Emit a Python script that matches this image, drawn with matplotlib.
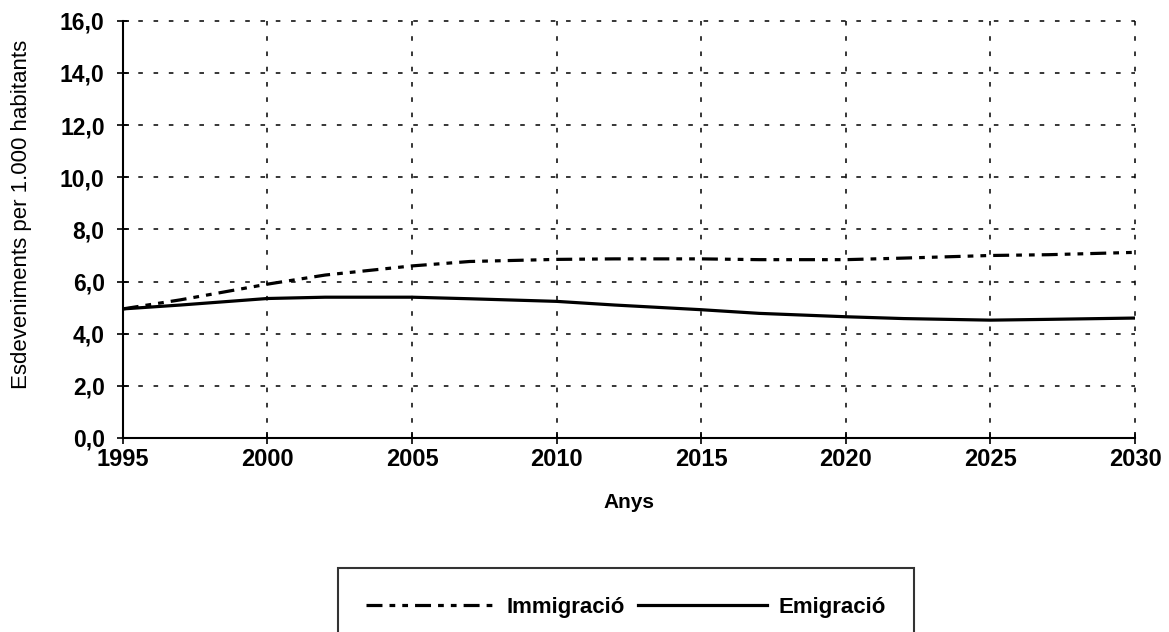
import matplotlib
matplotlib.use('agg')
import matplotlib.pyplot as plt
from matplotlib.ticker import FuncFormatter

years = [1995, 1997, 2000, 2002, 2005, 2007, 2010, 2012, 2015, 2017, 2020, 2022, 2025, 2027, 2030]
immigracio = [4.95, 5.3, 5.9, 6.25, 6.6, 6.77, 6.85, 6.87, 6.87, 6.84, 6.84, 6.9, 7.0, 7.03, 7.12]
emigracio = [4.95, 5.1, 5.35, 5.4, 5.4, 5.34, 5.24, 5.1, 4.92, 4.78, 4.65, 4.58, 4.52, 4.55, 4.6]

xticks = [1995, 2000, 2005, 2010, 2015, 2020, 2025, 2030]
yticks = [0, 2, 4, 6, 8, 10, 12, 14, 16]

plt.rcParams['font.family'] = ['Liberation Sans', 'DejaVu Sans']

fig = plt.figure(figsize=(11.69, 6.32), dpi=100)
ax = fig.add_axes([0.105, 0.307, 0.866, 0.66])

ax.plot(years, immigracio, color='black', lw=2.3, dashes=(5, 2.2, 1.8, 2.2, 1.8, 2.2), label='Immigració')
ax.plot(years, emigracio, color='black', lw=2.3, label='Emigració')

ax.set_xlim(1995, 2030)
ax.set_ylim(0, 16)
ax.set_xticks(xticks)
ax.set_yticks(yticks)
ax.yaxis.set_major_formatter(FuncFormatter(lambda v, p: f"{v:.1f}".replace('.', ',')))

ax.grid(True, color='black', lw=1.1, dashes=(3, 7))
for gl in ax.get_xgridlines() + ax.get_ygridlines():
    gl.set_clip_on(False)
ax.set_axisbelow(True)
for s in ['top', 'right']:
    ax.spines[s].set_visible(False)
for s in ['left', 'bottom']:
    ax.spines[s].set_linewidth(1.5)

ax.tick_params(direction='inout', length=8, width=1.2)
ax.tick_params(axis='x', labelsize=17, pad=3)
ax.tick_params(axis='y', labelsize=16.5, pad=9)
for lbl in ax.get_xticklabels() + ax.get_yticklabels():
    lbl.set_fontweight('bold')

ax.set_xlabel('Anys', fontsize=15, fontweight='bold', labelpad=16)
ax.set_ylabel('Esdeveniments per 1.000 habitants', fontsize=16)
ax.yaxis.set_label_coords(-0.09, 0.535)

leg = fig.legend(loc='upper center', bbox_to_anchor=(626 / 1169, 1 - 557 / 632), ncol=2,
                 frameon=True, fancybox=False, edgecolor='black', fontsize=16,
                 handlelength=5.8, columnspacing=0.6, borderpad=1.3, handletextpad=0.5)
leg.get_frame().set_linewidth(1.5)
for t in leg.get_texts():
    t.set_fontweight('bold')

plt.savefig('out.png', dpi=100)
